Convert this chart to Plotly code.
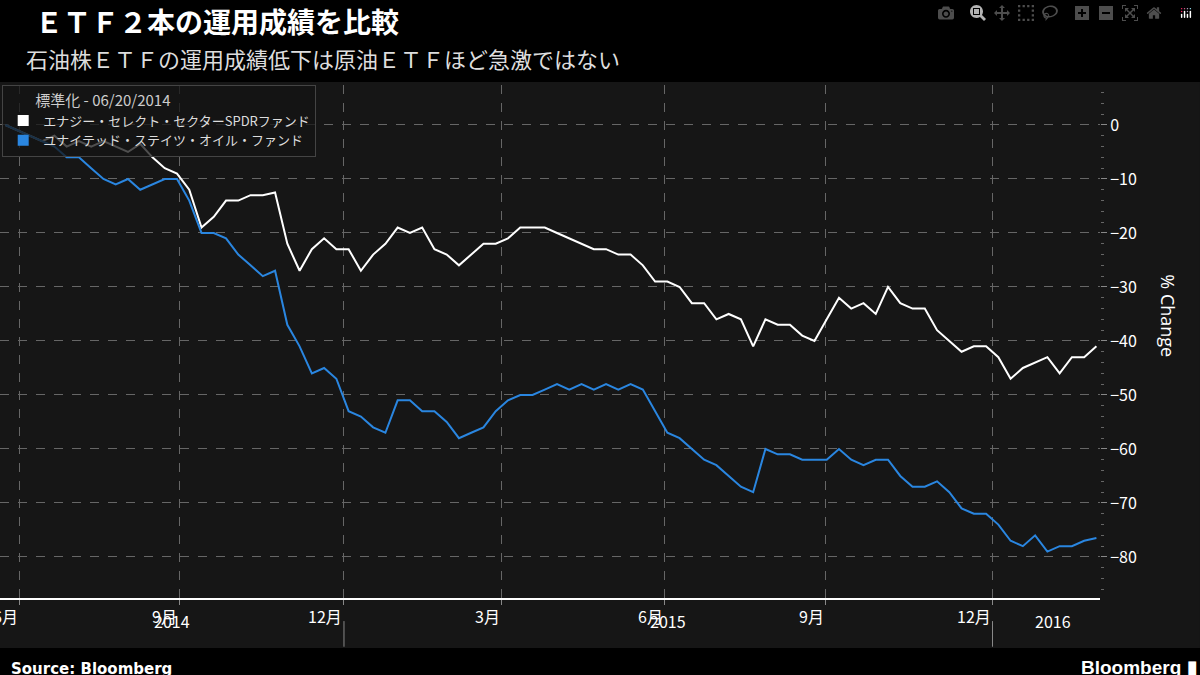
import plotly.graph_objects as go
import pandas as pd

# weekly-ish readings, normalised 06/20/2014 = 0
xle = [0, -1, -2, -3, -2, -4, -3, -4, -3, -4, -5, -3.5, -6, -8, -9, -12, -19, -17, -14, -14,
       -13, -13, -12.5, -22, -27, -23, -21, -23, -23, -27, -24, -22, -19, -20, -19, -23, -24, -26,
       -24, -22, -22, -21, -19, -19, -19, -20, -21, -22, -23, -23, -24, -24, -26, -29, -29, -30,
       -33, -33, -36, -35, -36, -41, -36, -37, -37, -39, -40, -36, -32, -34, -33, -35, -30, -33,
       -34, -34, -38, -40, -42, -41, -41, -43, -47, -45, -44, -43, -46, -43, -43, -41]
uso = [0, -1, -2, -3, -4, -6, -6, -8, -10, -11, -10, -12, -11, -10, -10, -14, -20, -20, -21, -24,
       -26, -28, -27, -37, -41, -46, -45, -47, -53, -54, -56, -57, -51, -51, -53, -53, -55, -58,
       -57, -56, -53, -51, -50, -50, -49, -48, -49, -48, -49, -48, -49, -48, -49, -53, -57, -58,
       -60, -62, -63, -65, -67, -68, -60, -61, -61, -62, -62, -62, -60, -62, -63, -62, -62, -65,
       -67, -67, -66, -68, -71, -72, -72, -74, -77, -78, -76, -79, -78, -78, -77, -76.5]
dates = pd.date_range("2014-06-20", "2016-02-19", periods=len(xle))

month_ticks = ["2014-06-28", "2014-09-25", "2014-12-26", "2015-03-24", "2015-06-23", "2015-09-21", "2015-12-23"]
month_labels = ["6月", "9月", "12月", "3月", "6月", "9月", "12月"]
years = ["2014", "2015", "2016"]
year_pos = ["2014-09-21", "2015-06-25", "2016-01-26"]
year_breaks = ["2014-12-26", "2015-12-23"]
y_ticks = [0, -10, -20, -30, -40, -50, -60, -70, -80]

names = ["エナジー・セレクト・セクターSPDRファンド", "ユナイテッド・ステイツ・オイル・ファンド"]
colors = ["#ffffff", "#2a86e0"]

fig = go.Figure()
for vals, name, c in zip([xle, uso], names, colors):
    fig.add_trace(go.Scatter(x=dates, y=vals, mode="lines", line=dict(color=c, width=2),
                             showlegend=False, hoverinfo="skip"))
    fig.add_trace(go.Scatter(x=[None], y=[None], mode="markers", name=name,
                             marker=dict(symbol="square", size=11, color=c)))

font_jp = "Noto Sans CJK JP"
fig.update_layout(
    width=1200, height=675,
    paper_bgcolor="#000000", plot_bgcolor="#161616",
    margin=dict(l=0, r=100, t=85, b=77),
    font=dict(family=font_jp, color="#e6e6e6", size=14),
    legend=dict(x=0.002, y=1.0, xanchor="left", yanchor="top",
                bgcolor="rgba(20,20,20,0.75)", bordercolor="#444", borderwidth=1,
                title=dict(text="　　標準化 - 06/20/2014", font=dict(size=15, color="#cccccc")),
                font=dict(size=13, color="#dddddd"), tracegroupgap=0, itemwidth=30),
    xaxis=dict(type="date", range=["2014-06-17", "2016-02-21"],
               tickvals=month_ticks, ticktext=[""] * len(month_ticks),
               showgrid=True, gridcolor="#666", griddash="dash", gridwidth=1,
               showline=True, linecolor="#ffffff", linewidth=1.5,
               ticks="outside", ticklen=5, tickcolor="#888",
               tickfont=dict(size=16, color="#ffffff"), zeroline=False),
    yaxis=dict(side="right", range=[-87.6, 7.4], tickvals=y_ticks,
               showgrid=True, gridcolor="#666", griddash="dash", gridwidth=1,
               ticks="outside", ticklen=6, tickcolor="#888",
               minor=dict(dtick=2, ticks="outside", ticklen=3, tickcolor="#666"),
               tickfont=dict(size=16, color="#ffffff"), zeroline=False),
)

# dark panel behind chart + axis area
fig.add_shape(type="rect", xref="paper", yref="paper", x0=0, x1=1.0909, y0=-0.0975, y1=1.006,
              fillcolor="#161616", line_width=0, layer="below")
for d, lab in zip(month_ticks, month_labels):
    fig.add_annotation(x=d, xref="x", y=-0.008, yref="paper", xanchor="right", yanchor="top",
                       text=lab, showarrow=False, font=dict(size=16, color="#ffffff"))
for d in year_breaks:
    fig.add_shape(type="line", xref="x", yref="paper", x0=d, x1=d, y0=-0.095, y1=-0.045,
                  line=dict(color="#888", width=1))
for yl, d in zip(years, year_pos):
    fig.add_annotation(x=d, xref="x", y=-0.072, yref="paper", text=yl, showarrow=False,
                       font=dict(size=16, color="#ffffff"))

fig.add_annotation(x=1.075, y=0.55, xref="paper", yref="paper", text="% Change", textangle=90,
                   showarrow=False, font=dict(size=18, color="#ffffff", family="Open Sans"))
fig.add_annotation(x=0.008, y=-0.116, xref="paper", yref="paper", xanchor="left", yanchor="top",
                   text="<b>Source: Bloomberg</b>", showarrow=False,
                   font=dict(size=15, color="#ffffff", family="DejaVu Sans"))
fig.add_annotation(x=1.09, y=-0.112, xref="paper", yref="paper", xanchor="right", yanchor="top",
                   text="<b>Bloomberg ▮</b>", showarrow=False,
                   font=dict(size=19, color="#ffffff", family="Liberation Sans"))
fig.add_annotation(x=0.03, y=1.125, xref="paper", yref="paper", xanchor="left", yanchor="middle",
                   text="<b>ＥＴＦ２本の運用成績を比較</b>", showarrow=False,
                   font=dict(size=28, color="#ffffff"))
fig.add_annotation(x=0.022, y=1.052, xref="paper", yref="paper", xanchor="left", yanchor="middle",
                   text="石油株ＥＴＦの運用成績低下は原油ＥＴＦほど急激ではない", showarrow=False,
                   font=dict(size=22, color="#dddddd"))

fig.write_html("out.html", post_script="document.body.style.margin='0';")
